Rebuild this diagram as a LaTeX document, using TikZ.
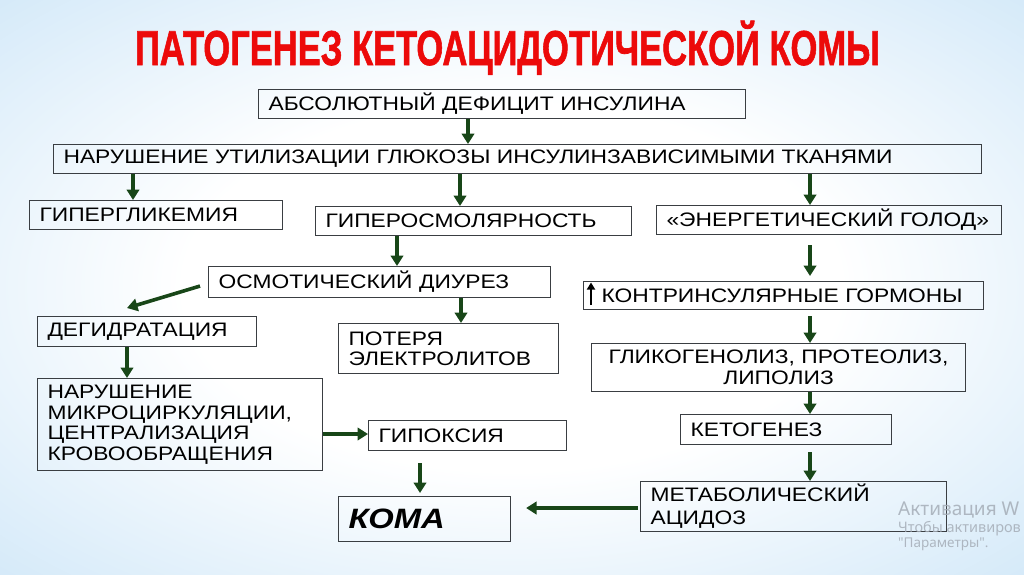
\documentclass[tikz,border=0pt]{standalone}
\usepackage{graphicx}
\usepackage{fontspec}
\setmainfont{Liberation Sans}[FakeStretch=1.17]
\newfontfamily\titlefont{Liberation Sans}[FakeBold=1.5]
\newfontfamily\wmfont{Noto Sans}
\usetikzlibrary{arrows.meta}
\definecolor{bgblue}{RGB}{182,218,244}
\definecolor{bgdeep}{RGB}{150,202,240}
\definecolor{arrowgreen}{RGB}{24,70,24}
\definecolor{boxline}{RGB}{58,62,66}
\definecolor{titlered}{RGB}{236,10,10}
\definecolor{wmgray}{RGB}{165,173,183}
\pgfdeclareradialshading{bgshade}{\pgfpoint{0bp}{0bp}}{color(0bp)=(white); color(16bp)=(white); color(50bp)=(bgblue); color(72bp)=(bgdeep)}
\begin{document}
\begin{tikzpicture}[x=1pt,y=-1pt,
  box/.style={draw=boxline, line width=1.1pt, anchor=north west, inner xsep=10pt, inner ysep=0pt,
    align=left, font=\fontsize{19.5}{21}\selectfont, text=black},
  arr/.style={draw=arrowgreen, line width=3.6pt, -{Triangle[width=12.5pt,length=10.5pt]}},
  wm/.style={anchor=base west, inner sep=0pt, text=wmgray, opacity=0.85},
]
\shade[shading=bgshade] (0,0) rectangle (1024,574);
\useasboundingbox (0,0) rectangle (1024,574);

\node[anchor=base, inner sep=0pt, text=titlered, font=\titlefont\bfseries\fontsize{49}{49}\selectfont] (title) at (507.5,65)
  {\resizebox{745pt}{\height}{ПАТОГЕНЕЗ КЕТОАЦИДОТИЧЕСКОЙ КОМЫ}};

\node[box, text width=467pt, minimum height=29pt] (b1) at (258,89) {АБСОЛЮТНЫЙ ДЕФИЦИТ ИНСУЛИНА};
\node[box, text width=908pt, minimum height=29pt] (b2) at (53,144) {НАРУШЕНИЕ УТИЛИЗАЦИИ ГЛЮКОЗЫ ИНСУЛИНЗАВИСИМЫМИ ТКАНЯМИ};
\node[box, text width=233pt, minimum height=29pt] (b3) at (29,200) {ГИПЕРГЛИКЕМИЯ};
\node[box, text width=296pt, minimum height=29pt] (b4) at (315,206) {ГИПЕРОСМОЛЯРНОСТЬ};
\node[box, text width=325pt, minimum height=29pt] (b5) at (656,205) {«ЭНЕРГЕТИЧЕСКИЙ ГОЛОД»};
\node[box, text width=322pt, minimum height=31pt] (b6) at (208,266) {ОСМОТИЧЕСКИЙ ДИУРЕЗ};
\node[box, text width=380pt, minimum height=28pt] (b7) at (583,281) {\hspace*{8pt}КОНТРИНСУЛЯРНЫЕ ГОРМОНЫ};
\node[box, text width=199pt, minimum height=30pt] (b8) at (37,316) {ДЕГИДРАТАЦИЯ};
\node[box, text width=200pt, minimum height=50pt, font=\fontsize{19.5}{20}\selectfont] (b9) at (338,323) {ПОТЕРЯ\\ЭЛЕКТРОЛИТОВ};
\node[box, text width=354pt, minimum height=48pt, align=center] (b10) at (591,343) {ГЛИКОГЕНОЛИЗ, ПРОТЕОЛИЗ,\\ЛИПОЛИЗ};
\node[box, text width=265pt, minimum height=92pt, font=\fontsize{19.5}{20.5}\selectfont] (b11) at (37,378) {НАРУШЕНИЕ\\МИКРОЦИРКУЛЯЦИИ,\\ЦЕНТРАЛИЗАЦИЯ\\КРОВООБРАЩЕНИЯ};
\node[box, text width=178pt, minimum height=30pt] (b12) at (368,420) {ГИПОКСИЯ};
\node[box, text width=191pt, minimum height=30pt] (b13) at (680,414) {КЕТОГЕНЕЗ};
\node[box, text width=286pt, minimum height=50pt, font=\fontsize{19.5}{23}\selectfont] (b14) at (640,481) {МЕТАБОЛИЧЕСКИЙ\\АЦИДОЗ};
\node[box, text width=152pt, minimum height=45pt, font=\bfseries\itshape\fontsize{28}{28}\selectfont] (b15) at (338,496) {КОМА};

% up arrow inside b7
\draw[black, line width=2.2pt, -{Triangle[width=8pt,length=7pt]}] ([xshift=8pt,yshift=5pt]b7.south west) -- ([xshift=8pt,yshift=-1.5pt]b7.north west);

% connectors
\draw[arr] ([xshift=210pt]b1.south west) -- ([xshift=415pt]b2.north west);
\draw[arr] ([xshift=80pt]b2.south west) -- ([xshift=104pt]b3.north west);
\draw[arr] ([xshift=407pt]b2.south west) -- ([xshift=145pt]b4.north west);
\draw[arr] ([xshift=757pt]b2.south west) -- ([xshift=154pt]b5.north west);
\draw[arr] ([xshift=82pt]b4.south west) -- ([xshift=189pt]b6.north west);
\draw[arr, shorten <=10pt, shorten >=5pt] ([xshift=154pt]b5.south west) -- ([xshift=227pt]b7.north west);
\draw[arr] ([xshift=-8pt,yshift=-4pt]b6.west) -- ([xshift=90pt,yshift=8pt]b8.north west);
\draw[arr] ([xshift=253pt]b6.south west) -- ([xshift=123pt]b9.north west);
\draw[arr] ([xshift=90pt]b8.south west) -- ([xshift=90pt]b11.north west);
\draw[arr, shorten <=6pt] ([xshift=227pt]b7.south west) -- ([xshift=219pt]b10.north west);
\draw[arr] ([xshift=219pt]b10.south west) -- ([xshift=130pt]b13.north west);
\draw[arr] ([yshift=-56pt]b11.north east) -- ([yshift=-14pt]b12.north west);
\draw[arr, shorten <=12pt, shorten >=3pt] ([xshift=52pt]b12.south west) -- ([xshift=82pt]b15.north west);
\draw[arr, shorten <=7pt] ([xshift=130pt]b13.south west) -- ([xshift=170pt]b14.north west);
\draw[arr, shorten <=2pt, shorten >=15pt] ([yshift=-27pt]b14.north west) -- ([yshift=-12pt]b15.north east);

% watermark (visible parts only)
\node[wm, font=\wmfont\fontsize{19}{19}\selectfont] (wm1) at (898,515) {Активация W};
\node[wm, font=\wmfont\fontsize{14.5}{14.5}\selectfont] (wm2) at (898,532) {Чтобы активиров};
\node[wm, font=\wmfont\fontsize{13.5}{13.5}\selectfont] (wm3) at (898,547) {"Параметры".};
\end{tikzpicture}
\end{document}
